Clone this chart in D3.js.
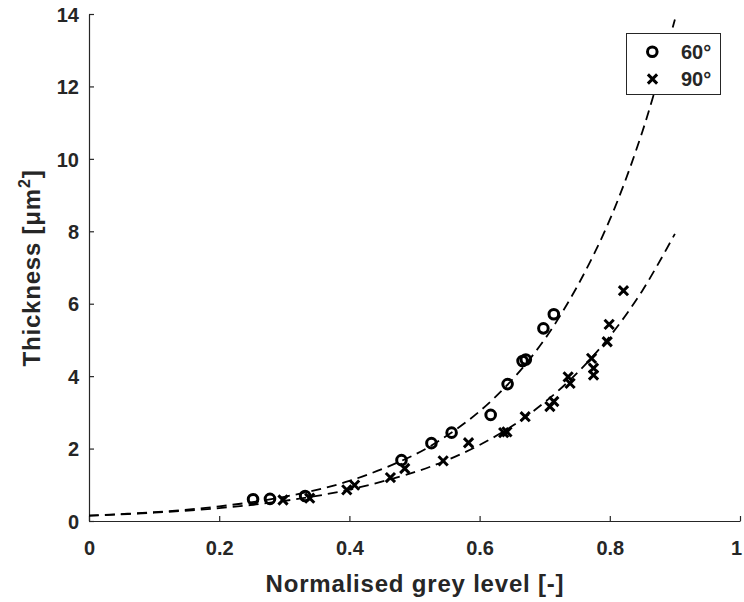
<!DOCTYPE html>
<html><head><meta charset="utf-8">
<script src="https://cdn.jsdelivr.net/npm/d3@7"></script>
<style>
html,body{margin:0;padding:0;background:#fff;}
text{font-family:"Liberation Sans",Arial,sans-serif;font-weight:bold;fill:#262626;}
</style></head>
<body><svg id="chart" width="744" height="602"></svg>
<script>
// Data
const series60X = [0.252,0.278,0.332,0.480,0.526,0.557,0.617,0.643,0.666,0.671,0.698,0.714];
const series60Y = [0.60,0.61,0.69,1.68,2.15,2.44,2.93,3.78,4.42,4.46,5.32,5.71];
const series90X = [0.298,0.339,0.396,0.408,0.463,0.485,0.544,0.583,0.637,0.642,0.670,0.708,0.714,0.736,0.739,0.772,0.775,0.775,0.796,0.799,0.821];
const series90Y = [0.58,0.63,0.86,0.99,1.20,1.45,1.66,2.16,2.44,2.46,2.88,3.16,3.30,3.98,3.80,4.49,4.22,4.03,4.95,5.43,6.36];
const fitX   = [0,0.1,0.2,0.3,0.4,0.5,0.55,0.6,0.65,0.7,0.75,0.8,0.85,0.9];
const fit60Y = [0.147,0.244,0.404,0.668,1.107,1.83,2.36,3.03,3.90,5.02,6.48,8.32,10.75,13.85];
const fit90Y = [0.147,0.229,0.356,0.556,0.866,1.35,1.68,2.10,2.62,3.28,4.09,5.10,6.36,7.93];
const xTicks = [0,0.2,0.4,0.6,0.8,1];
const yTicks = [0,2,4,6,8,10,12,14];
const legendLabels = ["60°","90°"];
const xTitle = "Normalised grey level [-]";

const svg = d3.select("#chart");
const x = d3.scaleLinear().domain([0,1]).range([89,740]);
const y = d3.scaleLinear().domain([0,14]).range([521,14]);
const axisColor = "#262626";

// axes
const gx = svg.append("g").attr("transform","translate(0,521)")
  .call(d3.axisBottom(x).tickValues(xTicks).tickSizeInner(-5).tickSizeOuter(0)
    .tickPadding(0).tickFormat(d=>d3.format("")(d)));
gx.select(".domain").attr("stroke",axisColor).attr("stroke-width",1.2);
gx.selectAll(".tick line").attr("stroke",axisColor).attr("stroke-width",1.2);
gx.selectAll(".tick text").attr("font-size",20).attr("dy",null).attr("y",34)
  .attr("x",d=>d===1?-4:0)
  .attr("fill",axisColor).attr("font-family","Liberation Sans, Arial, sans-serif").attr("font-weight","bold");

const gy = svg.append("g").attr("transform","translate(89,0)")
  .call(d3.axisLeft(y).tickValues(yTicks).tickSizeInner(-5).tickSizeOuter(0).tickPadding(0));
gy.select(".domain").attr("stroke",axisColor).attr("stroke-width",1.2);
gy.selectAll(".tick line").attr("stroke",axisColor).attr("stroke-width",1.2);
gy.selectAll(".tick text").attr("font-size",20).attr("x",-10).attr("dy","0.36em")
  .attr("fill",axisColor).attr("font-family","Liberation Sans, Arial, sans-serif").attr("font-weight","bold");

// titles
svg.append("text").attr("x",415).attr("y",592).attr("text-anchor","middle")
  .attr("font-size",24).attr("letter-spacing","0.8px").text(xTitle);
const yt = svg.append("text").attr("transform","translate(40,268) rotate(-90)")
  .attr("text-anchor","middle").attr("font-size",24).attr("letter-spacing","0.8px");
yt.append("tspan").text("Thickness [μm");
yt.append("tspan").attr("font-size",16).attr("dy",-10).text("2");
yt.append("tspan").attr("dy",10).text("]");

// fit curves
const line = d3.line().x(d=>x(d[0])).y(d=>y(d[1])).curve(d3.curveCatmullRom);
[fit60Y, fit90Y].forEach(arr=>{
  svg.append("path").datum(fitX.map((v,i)=>[v,arr[i]]))
    .attr("d",line).attr("fill","none").attr("stroke","#000")
    .attr("stroke-width",1.8).attr("stroke-dasharray","10,6");
});

// markers
const crossPath = s => `M${-s},${-s}L${s},${s}M${-s},${s}L${s},${-s}`;
svg.append("g").selectAll("circle").data(series60X.map((v,i)=>[v,series60Y[i]]))
  .join("circle").attr("cx",d=>x(d[0])).attr("cy",d=>y(d[1])).attr("r",4.8)
  .attr("fill","none").attr("stroke","#000").attr("stroke-width",3);
svg.append("g").selectAll("path").data(series90X.map((v,i)=>[v,series90Y[i]]))
  .join("path").attr("transform",d=>`translate(${x(d[0])},${y(d[1])})`)
  .attr("d",crossPath(4.6)).attr("fill","none").attr("stroke","#000").attr("stroke-width",3);

// legend
const lg = svg.append("g");
lg.append("rect").attr("x",626.5).attr("y",33.5).attr("width",94).attr("height",61)
  .attr("fill","#fff").attr("stroke",axisColor).attr("stroke-width",1);
lg.append("circle").attr("cx",652.3).attr("cy",51.7).attr("r",4.8)
  .attr("fill","none").attr("stroke","#000").attr("stroke-width",3);
lg.append("path").attr("transform","translate(652.5,79)").attr("d",crossPath(4.6))
  .attr("fill","none").attr("stroke","#000").attr("stroke-width",3);
lg.selectAll("text.lab").data(legendLabels).join("text").attr("class","lab")
  .attr("x",681).attr("y",(d,i)=>59+i*27.3).attr("font-size",20).attr("fill","#000").text(d=>d);
</script></body></html>
